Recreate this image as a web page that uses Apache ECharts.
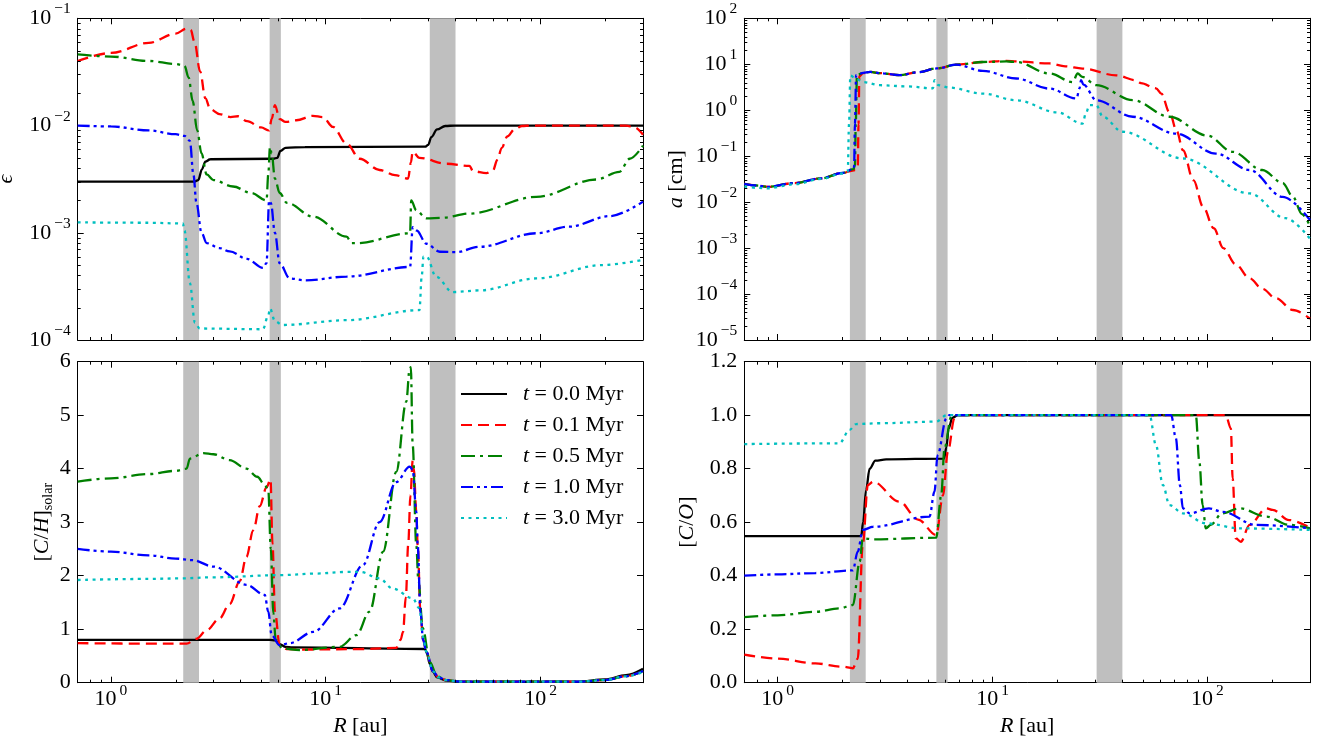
<!DOCTYPE html>
<html><head><meta charset="utf-8">
<script src="https://cdn.jsdelivr.net/npm/echarts@6/dist/echarts.min.js"></script>
<style>html,body{margin:0;padding:0;background:#fff}#c{width:1322px;height:742px}</style>
</head><body><div id="c"></div>
<script>
// ---------------- data (R in au, value) ----------------
const seriesNames = ['t = 0.0 Myr', 't = 0.1 Myr', 't = 0.5 Myr', 't = 1.0 Myr', 't = 3.0 Myr'];
const snowBands = [[2.17, 2.57], [5.48, 6.18], [30.5, 40.2]];

// panel 1: epsilon (dust-to-gas)
const eps_t00 = [[0.7,3.0e-3],[2.45,3.0e-3],[2.55,3.1e-3],[2.65,3.9e-3],[2.75,4.6e-3],[2.9,4.85e-3],[5.7,4.9e-3],[5.95,5.0e-3],[6.15,5.8e-3],[6.5,6.2e-3],[8,6.3e-3],[29,6.35e-3],[30,6.6e-3],[31,7.8e-3],[33,9.2e-3],[36,9.9e-3],[40,1.0e-2],[300,1.0e-2]];
const eps_t01 = [[0.7,4.0e-2],[1.0,4.75e-2],[1.5,5.9e-2],[2.0,7.2e-2],[2.25,8.0e-2],[2.35,7.8e-2],[2.45,6.0e-2],[2.6,3.2e-2],[2.75,1.8e-2],[2.9,1.42e-2],[3.2,1.28e-2],[3.6,1.2e-2],[3.9,1.22e-2],[4.3,1.1e-2],[5.0,9.6e-3],[5.45,9.0e-3],[5.6,1.15e-2],[5.8,1.55e-2],[6.1,1.15e-2],[6.5,1.08e-2],[7.3,1.12e-2],[8.7,1.23e-2],[9.7,1.2e-2],[10.8,9.7e-3],[12.5,6.8e-3],[14.4,4.9e-3],[17.8,3.85e-3],[21,3.45e-3],[24.2,3.2e-3],[24.9,4.5e-3],[25.4,5.7e-3],[27.3,5.0e-3],[36.5,4.4e-3],[46.7,4.2e-3],[48.5,3.75e-3],[56,3.6e-3],[60,3.8e-3],[63,4.8e-3],[66,6.2e-3],[70,7.9e-3],[76,9.3e-3],[82,9.9e-3],[90,1.0e-2],[250,1.0e-2],[275,9.6e-3],[300,8.2e-3]];
const eps_t05 = [[0.7,4.6e-2],[1.0,4.4e-2],[1.5,4.0e-2],[2.0,3.75e-2],[2.2,3.6e-2],[2.3,2.8e-2],[2.4,1.7e-2],[2.52,9e-3],[2.64,5.5e-3],[2.79,3.5e-3],[3.0,3.1e-3],[3.7,2.7e-3],[4.5,2.35e-3],[5.3,2.0e-3],[5.4,3.5e-3],[5.5,6.3e-3],[5.6,5.5e-3],[5.8,3.2e-3],[6.1,2.35e-3],[6.6,1.9e-3],[8.75,1.41e-3],[12.5,9.2e-4],[13.2,8.0e-4],[13.9,8.0e-4],[24.7,9.9e-4],[25.0,2.0e-3],[26.4,1.62e-3],[29.4,1.36e-3],[35,1.38e-3],[46.7,1.51e-3],[95.6,2.16e-3],[182,3.14e-3],[233,3.7e-3],[260,4.9e-3],[300,6.5e-3]];
const eps_t10 = [[0.7,1.0e-2],[1.0,9.8e-3],[1.5,9.0e-3],[2.0,8.3e-3],[2.2,8.0e-3],[2.33,7.2e-3],[2.42,3.5e-3],[2.5,1.9e-3],[2.64,1.0e-3],[2.79,8.0e-4],[3.2,7.2e-4],[3.57,6.7e-4],[4.3,5.7e-4],[5.1,4.7e-4],[5.3,5.2e-4],[5.45,2.0e-3],[5.55,1.9e-3],[5.8,1.0e-3],[6.1,5.2e-4],[6.8,3.75e-4],[8,3.6e-4],[12.5,3.9e-4],[24.7,4.8e-4],[25.4,1.13e-3],[26.5,1.05e-3],[29.4,7.9e-4],[34,6.65e-4],[40.5,6.6e-4],[52,7.4e-4],[95.6,9.9e-4],[136,1.14e-3],[210,1.43e-3],[300,1.95e-3]];
const eps_t30 = [[0.7,1.25e-3],[1.5,1.24e-3],[2.16,1.22e-3],[2.2,1.05e-3],[2.33,3.4e-4],[2.46,1.45e-4],[2.59,1.28e-4],[5.1,1.26e-4],[5.4,1.7e-4],[5.5,1.97e-4],[5.8,1.5e-4],[6.3,1.38e-4],[12.5,1.53e-4],[27.3,1.9e-4],[28.0,4.0e-4],[28.5,6.0e-4],[29.5,6.0e-4],[32.6,3.9e-4],[39,2.8e-4],[52,2.9e-4],[95.6,3.75e-4],[194,5.0e-4],[300,5.6e-4]];

// panel 2: a [cm] (grain size)
const a_t01 = [[0.7,0.025],[0.8,0.023],[0.9,0.0215],[1.2,0.026],[1.6,0.033],[2.0,0.043],[2.3,0.05],[2.36,0.056],[2.38,0.5],[2.4,5.5],[2.5,6.4],[2.7,6.8],[3.0,6.4],[3.7,5.8],[4.5,6.7],[5.5,8.1],[6.8,9.8],[9,11.2],[11.6,11.8],[12.9,11.5],[18.4,10.4],[21.8,9.0],[26.2,8.05],[37.6,5.75],[46.5,4.5],[49,3.9],[57.6,3.0],[61,2.3],[66.6,0.9],[72,0.35],[76.9,0.135],[86,0.03],[95.5,7.9e-3],[107,2.7e-3],[118.5,1.0e-3],[135,4.5e-4],[157,2.2e-4],[180,1.3e-4],[208,8.1e-5],[250,4.5e-5],[300,2.9e-5]];
const a_t05 = [[0.7,0.025],[0.8,0.023],[0.9,0.0215],[1.2,0.026],[1.6,0.033],[2.0,0.043],[2.25,0.052],[2.29,0.06],[2.31,0.5],[2.34,5.8],[2.5,6.5],[2.7,6.8],[3.0,6.4],[3.7,5.8],[4.5,6.7],[5.5,8.1],[6.8,9.8],[9,11.2],[11.6,11.5],[12.9,11.2],[18.4,6.3],[23.6,4.1],[24.9,6.3],[26.2,5.3],[30.4,3.5],[45,1.65],[66.6,0.72],[100,0.28],[131,0.124],[180,0.05],[224,0.026],[250,0.013],[275,5.5e-3],[300,3.0e-3]];
const a_t10 = [[0.7,0.025],[0.8,0.023],[0.9,0.0215],[1.2,0.026],[1.6,0.033],[2.0,0.043],[2.25,0.052],[2.27,0.06],[2.29,0.5],[2.32,5.8],[2.5,6.5],[2.7,6.8],[3.0,6.4],[3.7,5.8],[4.5,6.7],[5.5,8.1],[6.8,9.8],[9,7.2],[12.9,4.9],[18.4,2.95],[24.6,1.8],[25.4,3.0],[25.8,4.5],[26.5,3.6],[30.4,1.65],[44.9,0.72],[71.3,0.31],[109.6,0.114],[157,0.05],[224,0.013],[300,4.1e-3]];
const a_t30 = [[0.7,0.022],[0.8,0.0205],[0.9,0.02],[1.2,0.0245],[1.6,0.032],[2.0,0.042],[2.12,0.046],[2.15,0.5],[2.18,5.7],[2.3,5.0],[2.5,4.1],[3.0,3.5],[4.0,3.3],[5.28,3.0],[5.37,4.5],[5.6,3.5],[6.3,3.1],[9,2.3],[12.9,1.65],[20,0.9],[26.2,0.51],[27.3,0.9],[28.2,1.29],[30.4,1.29],[32.6,0.72],[40.2,0.34],[76.9,0.089],[157,0.0155],[230,4.5e-3],[300,1.6e-3]];

// panel 3: [C/H]_solar
const ch_t00 = [[0.7,0.8],[5.5,0.8],[5.8,0.79],[6.1,0.72],[6.5,0.67],[7,0.66],[29,0.63],[29.6,0.55],[30.5,0.35],[31.6,0.2],[33,0.1],[36.4,0.04],[42,0.02],[150,0.02],[200,0.06],[250,0.14],[300,0.26]];
const ch_t01 = [[0.7,0.74],[1.5,0.73],[2.25,0.73],[2.5,0.82],[2.79,0.98],[3.2,1.2],[3.57,1.47],[3.98,1.9],[4.27,2.35],[4.6,2.85],[4.93,3.3],[5.3,3.65],[5.53,3.8],[5.65,2.6],[5.8,1.33],[6.1,0.7],[6.56,0.63],[8,0.62],[15,0.63],[21.3,0.65],[22.3,0.8],[22.9,0.95],[23.6,1.6],[24.2,2.57],[24.8,3.5],[25.4,4.15],[25.7,4.0],[26.4,3.2],[26.8,2.57],[27.6,1.33],[28.4,0.8],[29.4,0.58],[31.6,0.21],[33.5,0.1],[36.4,0.05],[42,0.02],[150,0.02],[200,0.05],[250,0.12],[300,0.22]];
const ch_t05 = [[0.7,3.76],[1.0,3.82],[1.5,3.9],[2.0,3.96],[2.25,4.0],[2.33,4.19],[2.69,4.29],[3.0,4.27],[3.57,4.16],[4.27,4.0],[4.8,3.85],[5.2,3.7],[5.4,3.6],[5.55,2.5],[5.7,1.3],[5.85,0.8],[6.3,0.64],[7.55,0.61],[11.6,0.67],[13.9,0.89],[16.0,1.33],[18.5,2.45],[21.3,3.94],[23.7,5.25],[24.6,5.88],[24.9,5.9],[25.4,4.44],[26.4,2.57],[27.0,1.9],[28.3,1.02],[30.5,0.39],[33,0.12],[36.4,0.05],[42,0.02],[150,0.02],[200,0.05],[250,0.12],[300,0.22]];
const ch_t10 = [[0.7,2.5],[1.0,2.45],[1.5,2.38],[2.0,2.32],[2.4,2.29],[3.0,2.17],[4.27,1.83],[5.2,1.64],[5.4,1.33],[5.6,0.89],[6.1,0.7],[6.8,0.74],[8.75,0.95],[11.6,1.39],[14.9,2.2],[17.8,3.0],[21.3,3.75],[24.6,4.04],[25.4,3.98],[26.4,3.2],[26.8,2.57],[27.6,1.33],[28.4,0.8],[29.4,0.58],[31.6,0.21],[33.5,0.1],[36.4,0.05],[42,0.02],[150,0.02],[200,0.05],[250,0.12],[300,0.22]];
const ch_t30 = [[0.7,1.92],[1.5,1.94],[2.09,1.95],[3.0,1.97],[6.1,2.01],[9,2.04],[12.5,2.07],[14.5,2.07],[17.8,1.95],[20.5,1.76],[25.4,1.58],[27.3,1.39],[28.4,0.85],[29.4,0.58],[31.6,0.21],[33.5,0.1],[36.4,0.05],[42,0.02],[150,0.02],[200,0.05],[250,0.12],[300,0.2]];

// panel 4: [C/O]
const co_t00 = [[0.7,0.548],[2.45,0.548],[2.5,0.6],[2.58,0.72],[2.68,0.8],[2.85,0.83],[3.2,0.835],[5.95,0.838],[6.1,0.88],[6.25,0.95],[6.5,0.99],[6.9,1.0],[300,1.0]];
const co_t01 = [[0.7,0.105],[1.0,0.09],[1.5,0.072],[2.0,0.06],[2.24,0.054],[2.36,0.09],[2.49,0.515],[2.63,0.739],[2.78,0.751],[3.69,0.677],[4.5,0.61],[5.47,0.552],[5.88,0.7],[6.2,0.864],[6.65,0.988],[7.0,1.0],[121.7,1.0],[128.5,0.951],[131,0.764],[135.4,0.54],[143,0.527],[157,0.59],[188,0.652],[201,0.646],[240,0.608],[300,0.58]];
const co_t05 = [[0.7,0.245],[1.0,0.252],[1.5,0.265],[1.94,0.278],[2.24,0.29],[2.41,0.452],[2.49,0.54],[2.78,0.536],[5.47,0.542],[5.77,0.70],[5.98,0.876],[6.42,0.994],[6.8,1.0],[88.3,1.0],[91.7,0.826],[95,0.664],[98.3,0.577],[103.6,0.59],[117,0.633],[141,0.652],[188,0.621],[240,0.59],[300,0.577]];
const co_t10 = [[0.7,0.40],[1.0,0.405],[1.5,0.41],[2.24,0.42],[2.36,0.49],[2.49,0.571],[2.78,0.583],[5.09,0.621],[5.37,0.714],[5.55,0.851],[6.1,0.988],[6.3,1.0],[67.8,1.0],[71.3,0.914],[74.4,0.739],[76.9,0.652],[82.7,0.633],[101.6,0.652],[117,0.639],[168,0.59],[300,0.577]];
const co_t30 = [[0.7,0.892],[1.94,0.895],[2.16,0.945],[2.32,0.967],[3.0,0.97],[5.47,0.976],[6.1,1.0],[53.8,1.0],[57.6,0.888],[62,0.739],[66.6,0.664],[76.9,0.633],[98.3,0.596],[141,0.577],[300,0.571]];

// axis tick values
const xMinorTicks = [0.8,0.9,2,3,4,5,6,7,8,9,20,30,40,50,60,70,80,90,200];
const epsMinorTicks = [2e-4,3e-4,4e-4,5e-4,6e-4,7e-4,8e-4,9e-4,2e-3,3e-3,4e-3,5e-3,6e-3,7e-3,8e-3,9e-3,2e-2,3e-2,4e-2,5e-2,6e-2,7e-2,8e-2,9e-2];
const aMinorTicks = [2e-5,3e-5,4e-5,5e-5,6e-5,7e-5,8e-5,9e-5,2e-4,3e-4,4e-4,5e-4,6e-4,7e-4,8e-4,9e-4,2e-3,3e-3,4e-3,5e-3,6e-3,7e-3,8e-3,9e-3,2e-2,3e-2,4e-2,5e-2,6e-2,7e-2,8e-2,9e-2,0.2,0.3,0.4,0.5,0.6,0.7,0.8,0.9,2,3,4,5,6,7,8,9,20,30,40,50,60,70,80,90];

// ---------------- styling ----------------
const KEYS = ['t00','t01','t05','t10','t30'];
const COLORS = {t00:'#000000', t01:'#ff0000', t05:'#008000', t10:'#0000ff', t30:'#00bfbf'};
const DASH = {t00:'solid', t01:[11,6], t05:[14,5,3,5], t10:[12,4,3,4,3,4], t30:[3,4.5]};
const SERIF = 'Liberation Serif';
const FS = 22;
const LW = 2.3;

const GRIDS = [
  {left:77.7, top:18.3, width:565.3, height:321.7},
  {left:744.3, top:18.3, width:565.7, height:321.7},
  {left:77.7, top:361.7, width:565.3, height:321},
  {left:744.3, top:361.7, width:565.7, height:321}
];

const powRich = {
  b: {fontFamily: SERIF, fontSize: FS, color: '#000'},
  s: {fontFamily: SERIF, fontSize: 15.5, color: '#000', padding: [0,0,18,3]}
};
function powLabel(v) {
  const l = Math.log10(v), e = Math.round(l);
  if (Math.abs(l - e) > 1e-6) return '';
  return '{b|10}{s|' + (e < 0 ? '\u2212' : '') + Math.abs(e) + '}';
}
const axisLineStyle = {show: true, onZero: false, lineStyle: {color: '#000', width: 1}};
const tickStyle = {show: true, inside: true, length: 6, lineStyle: {color: '#000', width: 1}};

const xAxis = [], yAxis = [];
GRIDS.forEach((g, gi) => {
  const bottomPanel = gi >= 2;
  const base = {type: 'log', logBase: 10, min: 0.7, max: 300, gridIndex: gi,
    axisLine: axisLineStyle, axisTick: tickStyle, splitLine: {show: false}};
  xAxis.push(Object.assign({}, base, {
    position: 'bottom',
    axisLabel: bottomPanel ? {show: true, formatter: powLabel, rich: powRich, margin: 0,
      fontFamily: SERIF, fontSize: FS, color: '#000', showMinLabel: false, showMaxLabel: false} : {show: false},
    name: bottomPanel ? '{i|R}{n| [au]}' : '',
    nameLocation: 'middle', nameGap: 33,
    nameTextStyle: {fontFamily: SERIF, fontSize: FS, color: '#000',
      rich: {i: {fontFamily: SERIF, fontSize: FS, fontStyle: 'italic', color: '#000'},
             n: {fontFamily: SERIF, fontSize: FS, color: '#000'}}}
  }));
  xAxis.push(Object.assign({}, base, {position: 'top', axisLabel: {show: false}}));
});

const nameRich = {
  i: {fontFamily: SERIF, fontSize: FS, fontStyle: 'italic', color: '#000'},
  n: {fontFamily: SERIF, fontSize: FS, color: '#000'},
  sub: {fontFamily: SERIF, fontSize: 14, color: '#000', padding: [13,0,0,0]}
};
const yDefs = [
  {type: 'log', min: 1e-4, max: 1e-1, fmt: powLabel, rich: powRich, name: '{i|ϵ}', gap: 60},
  {type: 'log', min: 1e-5, max: 1e2, fmt: powLabel, rich: powRich, name: '{i|a}{n| [cm]}', gap: 57},
  {type: 'value', min: 0, max: 6, interval: 1, fmt: v => String(v), name: '{n|[}{i|C}{n|/}{i|H}{n|]}{sub|solar}', gap: 22},
  {type: 'value', min: 0, max: 1.2, interval: 0.2, fmt: v => v.toFixed(1), name: '{n|[}{i|C}{n|/}{i|O}{n|]}', gap: 46}
];
yDefs.forEach((d, gi) => {
  const base = {type: d.type, min: d.min, max: d.max, gridIndex: gi,
    axisLine: axisLineStyle, axisTick: tickStyle, splitLine: {show: false}};
  if (d.type === 'log') base.logBase = 10;
  if (d.interval) base.interval = d.interval;
  yAxis.push(Object.assign({}, base, {
    position: 'left',
    axisLabel: {show: true, formatter: d.fmt, rich: d.rich, margin: 7, fontFamily: SERIF, fontSize: FS, color: '#000'},
    name: d.name, nameLocation: 'middle', nameGap: d.gap,
    nameTextStyle: {fontFamily: SERIF, fontSize: FS, color: '#000', rich: nameRich}
  }));
  yAxis.push(Object.assign({}, base, {position: 'right', axisLabel: {show: false}}));
});

// ---------------- series ----------------
const series = [];
function bandSeries(gi) {
  return {type: 'line', xAxisIndex: gi*2, yAxisIndex: gi*2, data: [], z: 1, silent: true, animation: false,
    markArea: {silent: true, label: {show: false}, itemStyle: {color: '#bfbfbf', opacity: 1},
      data: snowBands.map(b => [{xAxis: b[0]}, {xAxis: b[1]}])}};
}
function lineSeries(gi, idx, data) {
  const k = KEYS[idx];
  return {type: 'line', name: seriesNames[idx], xAxisIndex: gi*2, yAxisIndex: gi*2, data: data,
    showSymbol: false, symbol: 'none', smooth: 0.35, smoothMonotone: 'x', z: 3, animation: false,
    lineStyle: {color: COLORS[k], width: LW, type: DASH[k], cap: 'butt'},
    itemStyle: {color: COLORS[k]}, emphasis: {disabled: true}};
}
function minorTickSeries(gi, xVals, yVals, yRef) {
  return {type: 'custom', xAxisIndex: gi*2, yAxisIndex: gi*2, data: [[1, yRef]], z: 4, silent: true,
    clip: false, animation: false,
    renderItem: (params, api) => {
      const cs = params.coordSys, ch = [];
      const ls = {stroke: '#000', lineWidth: 1};
      xVals.forEach(v => {
        const px = Math.round(api.coord([v, yRef])[0]) + 0.5;
        ch.push({type: 'line', shape: {x1: px, y1: cs.y + cs.height, x2: px, y2: cs.y + cs.height - 3}, style: ls});
        ch.push({type: 'line', shape: {x1: px, y1: cs.y, x2: px, y2: cs.y + 3}, style: ls});
      });
      yVals.forEach(v => {
        const py = Math.round(api.coord([1, v])[1]) + 0.5;
        ch.push({type: 'line', shape: {x1: cs.x, y1: py, x2: cs.x + 3, y2: py}, style: ls});
        ch.push({type: 'line', shape: {x1: cs.x + cs.width, y1: py, x2: cs.x + cs.width - 3, y2: py}, style: ls});
      });
      return {type: 'group', children: ch};
    }};
}

const panels = [
  [eps_t00, eps_t01, eps_t05, eps_t10, eps_t30],
  [null, a_t01, a_t05, a_t10, a_t30],
  [ch_t00, ch_t01, ch_t05, ch_t10, ch_t30],
  [co_t00, co_t01, co_t05, co_t10, co_t30]
];
const minorY = [epsMinorTicks, aMinorTicks, [], []];
const yRefs = [1e-3, 1, 1, 0.5];
panels.forEach((arrs, gi) => {
  series.push(bandSeries(gi));
  arrs.forEach((d, idx) => { if (d) series.push(lineSeries(gi, idx, d)); });
  series.push(minorTickSeries(gi, xMinorTicks, minorY[gi], yRefs[gi]));
});

const option = {
  animation: false,
  backgroundColor: '#ffffff',
  grid: GRIDS.map(g => Object.assign({containLabel: false, outerBoundsMode: 'none', show: false}, g)),
  xAxis: xAxis,
  yAxis: yAxis,
  legend: {
    data: seriesNames, orient: 'vertical', left: 455, top: 378,
    itemWidth: 46, itemHeight: 14, itemGap: 9,
    selectedMode: false,
    itemStyle: {opacity: 0, borderWidth: 0},
    formatter: name => '{i|t}{n|' + name.slice(1) + '}',
    textStyle: {fontFamily: SERIF, fontSize: FS, color: '#000', padding: [0,0,0,11],
      rich: {i: {fontFamily: SERIF, fontSize: FS, fontStyle: 'italic', color: '#000'},
             n: {fontFamily: SERIF, fontSize: FS, color: '#000'}}}
  },
  series: series
};
const chart = echarts.init(document.getElementById('c'), null, {renderer: 'canvas'});
chart.setOption(option);
</script></body></html>
